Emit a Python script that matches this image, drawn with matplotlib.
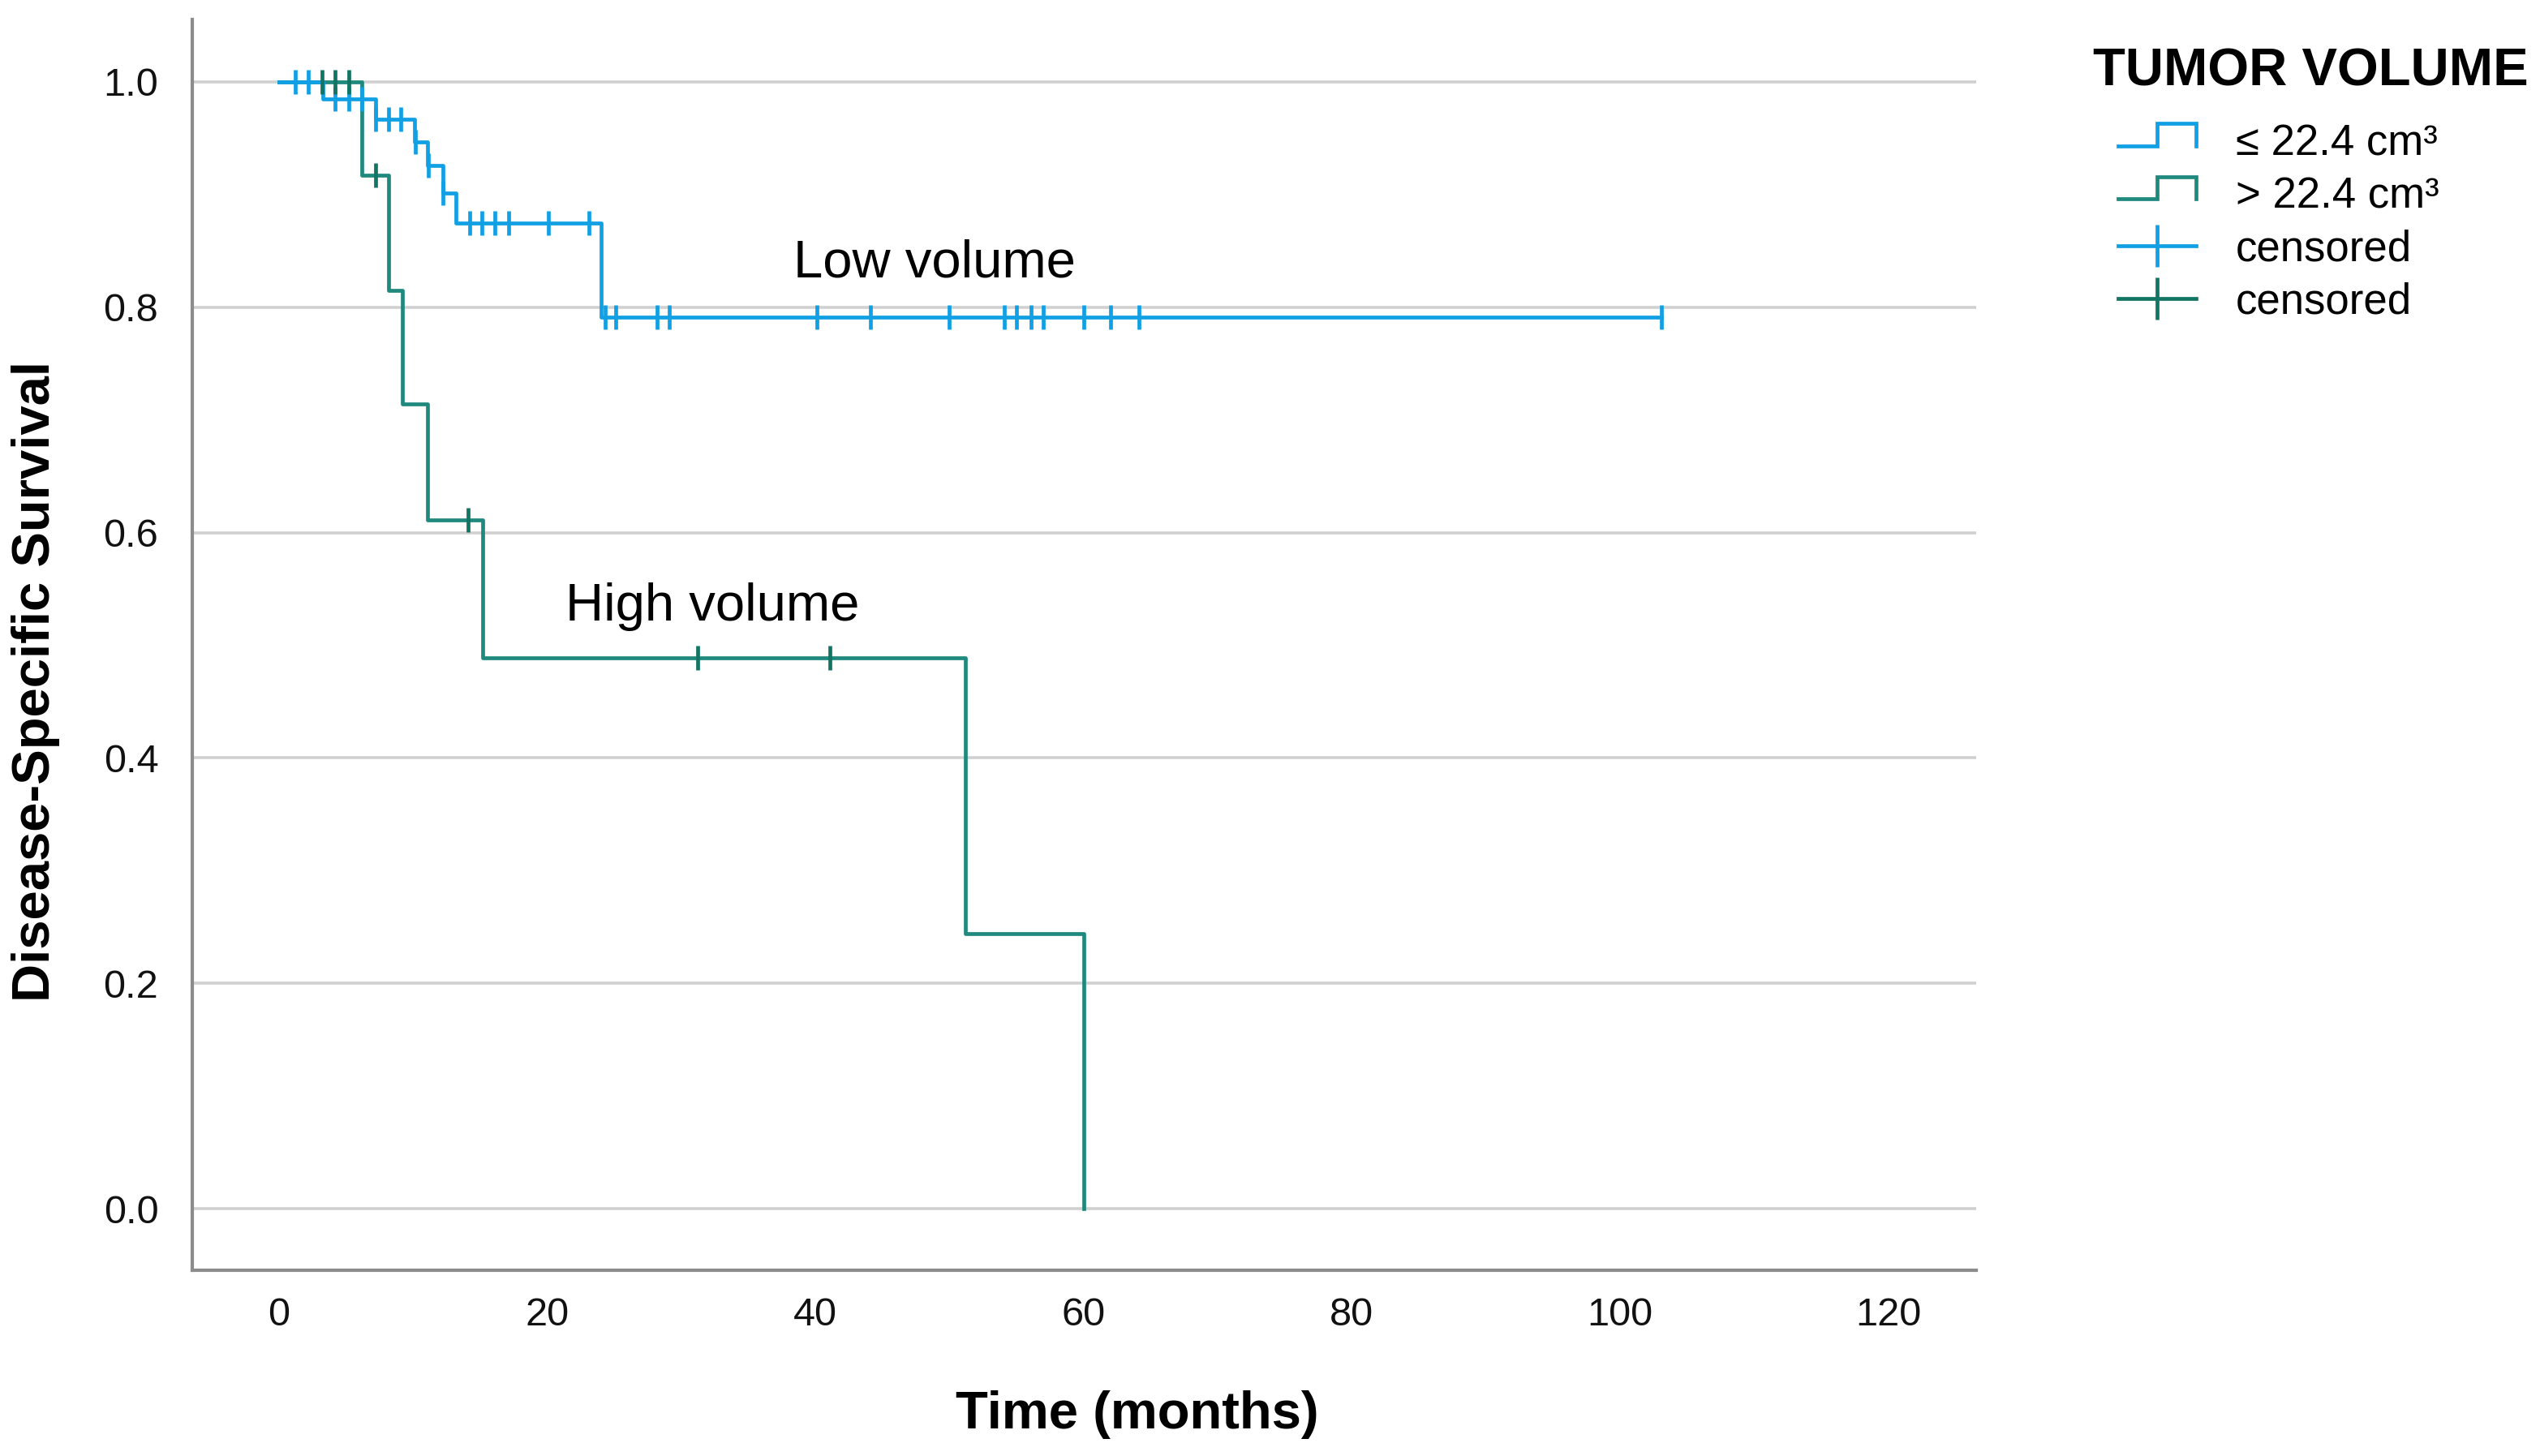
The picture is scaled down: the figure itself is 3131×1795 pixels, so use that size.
import numpy as np
import matplotlib
matplotlib.use("Agg")
import matplotlib.pyplot as plt
from matplotlib.lines import Line2D
from matplotlib.legend_handler import HandlerBase

plt.rcParams['font.family'] = ['Liberation Sans', 'DejaVu Sans']

# Kaplan-Meier steps, low tumour volume (<= 22.4 cm3)
low_t = [0, 3.25, 7.18, 10.1, 11.1, 12.2, 13.2, 24.0, 103.1]
low_s = [1.0, 0.985, 0.967, 0.947, 0.926, 0.901, 0.875, 0.791, 0.791]
low_cens = [1.2, 2.2, 4.2, 5.2, 6.2, 7.2, 8.2, 9.1, 10.15, 11.15, 12.25,
            14.2, 15.1, 16.1, 17.1, 20.1, 23.1,
            24.3, 25.1, 28.2, 29.1, 40.1, 44.1, 50.0, 54.1, 55.0, 56.1,
            57.0, 60.0, 62.0, 64.1, 103.1]

# high tumour volume (> 22.4 cm3)
high_t = [0, 6.15, 8.2, 9.2, 11.1, 15.2, 51.2, 60.0]
high_s = [1.0, 0.917, 0.815, 0.714, 0.611, 0.489, 0.244, 0.0]
high_cens = [3.2, 4.2, 5.2, 7.2, 14.1, 31.2, 41.1]

xticks = [0, 20, 40, 60, 80, 100, 120]
yticks = [0.0, 0.2, 0.4, 0.6, 0.8, 1.0]

blue = '#12a0e4'
teal = '#20897e'
teal_dark = '#127564'


def level_at(times, surv, t):
    # survival value of the step curve at time t
    idx = np.searchsorted(times, t, side='right') - 1
    return np.array(surv)[idx]


class StepHandler(HandlerBase):
    def create_artists(self, legend, orig_handle, xdescent, ydescent,
                       width, height, fontsize, trans):
        xs = np.array([0, 0.5, 0.5, 1.0, 1.0]) * width - xdescent
        ys = np.array([0.3, 0.3, 1.05, 1.05, 0.3]) * height - ydescent
        ln = Line2D(xs, ys, color=orig_handle.get_color(),
                    lw=orig_handle.get_linewidth(), solid_joinstyle='miter')
        ln.set_transform(trans)
        return [ln]


fig = plt.figure(figsize=(31.31, 17.95), dpi=100)
ax = fig.add_axes([237/3131, 1 - 1566/1795, (2436-237)/3131, (1566-24)/1795])

ax.step(high_t, high_s, where='post', color=teal, lw=3.4)
ax.step(low_t, low_s, where='post', color=blue, lw=3.4)
ax.plot(low_cens, level_at(low_t, low_s, low_cens), ls='none', marker='|',
        ms=21, mew=3.4, color=blue)
ax.plot(high_cens, level_at(high_t, high_s, high_cens), ls='none', marker='|',
        ms=21, mew=3.4, color=teal_dark)

ax.set_xlim(-6.47, 126.56)
ax.set_ylim(-0.0547, 1.0554)
ax.set_xticks(xticks)
ax.set_yticks(yticks)
ax.set_xticklabels([str(v) for v in xticks])
ax.set_yticklabels(['%.1f' % v for v in yticks])
ax.tick_params(axis='both', length=0, labelsize=35, colors='#111111')
ax.tick_params(axis='x', pad=24)
ax.tick_params(axis='y', pad=30)
ax.yaxis.grid(True, color='#d0d0d0', lw=2.6)
ax.set_axisbelow(True)
for side in ['top', 'right']:
    ax.spines[side].set_visible(False)
for side in ['left', 'bottom']:
    ax.spines[side].set_color('#8c8c8c')
    ax.spines[side].set_linewidth(3.0)

ax.set_xlabel('Time (months)', fontsize=47, fontweight='bold', va='center')
ax.xaxis.set_label_coords((1402-237)/(2436-237), (1566-1744)/(1566-24))
ax.set_ylabel('Disease-Specific Survival', fontsize=47, fontweight='bold',
              va='center', ha='center')
ax.yaxis.set_label_coords((44-237)/(2436-237), (1566-840)/(1566-24))

ax.text(48.9, 0.839, 'Low volume', fontsize=47, ha='center', va='center')
ax.text(32.3, 0.534, 'High volume', fontsize=47, ha='center', va='center')

# legend
fig.text(2580/3131, 1 - 88/1795, 'TUMOR VOLUME', fontsize=47,
         fontweight='bold', ha='left', va='center')
h1 = Line2D([], [], color=blue, lw=3.4)
h2 = Line2D([], [], color=teal, lw=3.4)
h3 = Line2D([], [], color=blue, lw=3.4, marker='|', ms=37, mew=3.4)
h4 = Line2D([], [], color=teal_dark, lw=3.4, marker='|', ms=37, mew=3.4)
fig.legend([h1, h2, h3, h4],
           ['≤ 22.4 cm³', '> 22.4 cm³', 'censored', 'censored'],
           handler_map={h1: StepHandler(), h2: StepHandler()},
           loc='upper left', bbox_to_anchor=(2611/3131, 1 - 152/1795),
           frameon=False, fontsize=38, borderpad=0, borderaxespad=0,
           labelspacing=0.29, handlelength=1.82, handletextpad=0.93,
           numpoints=1)

fig.savefig('out.png', dpi=100)
